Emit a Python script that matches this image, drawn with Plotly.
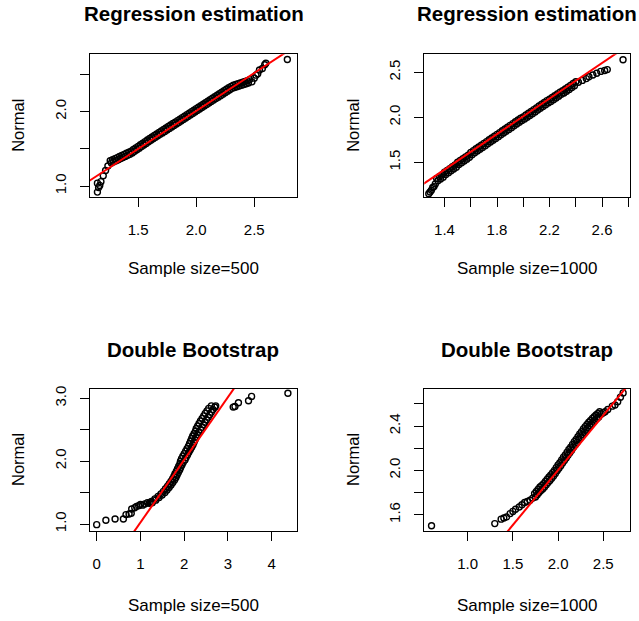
import plotly.graph_objects as go

# ---------------- data ----------------
# Panel 1: Regression estimation, n=500  (sample quantile x, normal quantile y)
p1_x = [1.15, 1.15, 1.16, 1.17, 1.18, 1.20, 1.22, 1.24,
        1.26, 1.27, 1.28, 1.29, 1.30, 1.31, 1.32, 1.33, 1.34, 1.35,
        1.36, 1.37, 1.38, 1.39, 1.40, 1.41, 1.42, 1.43, 1.44, 1.45,
        1.46, 1.47, 1.48, 1.49, 1.50, 1.51, 1.52, 1.53, 1.54, 1.55,
        1.56, 1.57, 1.58, 1.59, 1.60, 1.61, 1.62, 1.63, 1.64, 1.65,
        1.66, 1.67, 1.68, 1.69, 1.70, 1.71, 1.72, 1.73, 1.74, 1.75,
        1.76, 1.77, 1.78, 1.79, 1.80, 1.81, 1.82, 1.83, 1.84, 1.85,
        1.86, 1.87, 1.88, 1.89, 1.90, 1.91, 1.92, 1.93, 1.94, 1.95,
        1.96, 1.97, 1.98, 1.99, 2.00, 2.01, 2.02, 2.03, 2.04, 2.05,
        2.06, 2.07, 2.08, 2.09, 2.10, 2.11, 2.12, 2.13, 2.14, 2.15,
        2.16, 2.17, 2.18, 2.19, 2.20, 2.21, 2.22, 2.23, 2.24, 2.25,
        2.26, 2.27, 2.28, 2.29, 2.30, 2.31, 2.32, 2.33, 2.34, 2.35,
        2.36, 2.37, 2.38, 2.39, 2.40, 2.41, 2.42, 2.43, 2.44, 2.45, 2.46,
        2.48, 2.50, 2.515, 2.53, 2.545, 2.57, 2.59, 2.60, 2.785]
p1_y = [0.92, 1.04, 0.98, 1.01, 1.06, 1.14, 1.21, 1.27,
        1.340, 1.312, 1.354, 1.327, 1.369, 1.341, 1.383, 1.355, 1.398, 1.370,
        1.412, 1.384, 1.426, 1.399, 1.441, 1.413, 1.455, 1.427, 1.470, 1.446,
        1.491, 1.467, 1.513, 1.488, 1.534, 1.510, 1.555, 1.531, 1.576, 1.552,
        1.598, 1.573, 1.619, 1.595, 1.640, 1.615, 1.660, 1.635, 1.680, 1.655,
        1.700, 1.675, 1.720, 1.695, 1.740, 1.715, 1.760, 1.735, 1.780, 1.755,
        1.800, 1.775, 1.820, 1.795, 1.840, 1.815, 1.860, 1.835, 1.880, 1.855,
        1.900, 1.875, 1.920, 1.895, 1.940, 1.915, 1.960, 1.935, 1.980, 1.955,
        2.000, 1.975, 2.020, 1.995, 2.040, 2.015, 2.060, 2.035, 2.080, 2.055,
        2.100, 2.075, 2.120, 2.095, 2.140, 2.115, 2.160, 2.135, 2.180, 2.155,
        2.200, 2.175, 2.220, 2.195, 2.240, 2.215, 2.260, 2.235, 2.280, 2.255,
        2.300, 2.275, 2.320, 2.295, 2.340, 2.313, 2.355, 2.325, 2.365, 2.335,
        2.375, 2.345, 2.385, 2.355, 2.395, 2.365, 2.405, 2.375, 2.415, 2.385, 2.430,
        2.40, 2.45, 2.49, 2.51, 2.56, 2.58, 2.63, 2.65, 2.70]
p1_line = [-0.031, 1.02]   # intercept, slope of qqline

# Panel 2: Regression estimation, n=1000
p2_x = [1.28, 1.29, 1.30, 1.31, 1.32, 1.33,
        1.34, 1.35, 1.36, 1.37, 1.38, 1.39, 1.40, 1.41, 1.42, 1.43,
        1.44, 1.45, 1.46, 1.47, 1.48, 1.49, 1.50, 1.51, 1.52, 1.53,
        1.54, 1.55, 1.56, 1.57, 1.58, 1.59, 1.60, 1.61, 1.62, 1.63,
        1.64, 1.65, 1.66, 1.67, 1.68, 1.69, 1.70, 1.71, 1.72, 1.73,
        1.74, 1.75, 1.76, 1.77, 1.78, 1.79, 1.80, 1.81, 1.82, 1.83,
        1.84, 1.85, 1.86, 1.87, 1.88, 1.89, 1.90, 1.91, 1.92, 1.93,
        1.94, 1.95, 1.96, 1.97, 1.98, 1.99, 2.00, 2.01, 2.02, 2.03,
        2.04, 2.05, 2.06, 2.07, 2.08, 2.09, 2.10, 2.11, 2.12, 2.13,
        2.14, 2.15, 2.16, 2.17, 2.18, 2.19, 2.20, 2.21, 2.22, 2.23,
        2.24, 2.25, 2.26, 2.27, 2.28, 2.29, 2.30, 2.31, 2.32, 2.33,
        2.34, 2.35, 2.36, 2.37, 2.38, 2.39, 2.40,
        2.42, 2.45, 2.48, 2.50, 2.53, 2.56, 2.59, 2.62, 2.64, 2.76]
p2_y = [1.15, 1.17, 1.19, 1.22, 1.23, 1.26,
        1.320, 1.295, 1.340, 1.315, 1.360, 1.335, 1.390, 1.365, 1.410, 1.385,
        1.430, 1.405, 1.450, 1.425, 1.470, 1.445, 1.500, 1.475, 1.520, 1.495,
        1.540, 1.515, 1.560, 1.535, 1.580, 1.555, 1.610, 1.585, 1.630, 1.605,
        1.650, 1.625, 1.670, 1.645, 1.690, 1.665, 1.710, 1.685, 1.730, 1.705,
        1.750, 1.725, 1.770, 1.745, 1.790, 1.765, 1.810, 1.785, 1.830, 1.805,
        1.850, 1.825, 1.870, 1.845, 1.890, 1.865, 1.910, 1.885, 1.930, 1.905,
        1.950, 1.925, 1.970, 1.945, 1.990, 1.965, 2.005, 1.980, 2.025, 2.000,
        2.045, 2.020, 2.065, 2.040, 2.085, 2.060, 2.105, 2.080, 2.125, 2.100,
        2.145, 2.120, 2.165, 2.140, 2.185, 2.160, 2.200, 2.175, 2.220, 2.195,
        2.240, 2.215, 2.260, 2.235, 2.280, 2.255, 2.295, 2.270, 2.315, 2.290,
        2.335, 2.310, 2.355, 2.330, 2.375, 2.350, 2.395,
        2.39, 2.41, 2.43, 2.45, 2.47, 2.49, 2.51, 2.52, 2.53, 2.64]
p2_line = [0.037, 0.987]

# Panel 3: Double Bootstrap, n=500
p3_x = [0.00, 0.21, 0.42, 0.61, 0.67, 0.74, 0.79, 0.80, 0.87, 0.91, 0.96,
        1.00, 1.05, 1.10, 1.16, 1.20, 1.24,
        1.27, 1.25, 1.35, 1.33, 1.426, 1.402, 1.496, 1.468, 1.56, 1.524,
        1.608, 1.572, 1.656, 1.62, 1.70, 1.66, 1.74, 1.70, 1.78, 1.736,
        1.812, 1.766, 1.838, 1.79, 1.866, 1.822, 1.896, 1.848, 1.92, 1.874,
        1.948, 1.902, 1.976, 1.915, 2.017, 1.939, 2.043, 1.969, 2.075, 2.001,
        2.107, 2.033, 2.139, 2.065, 2.171, 2.097, 2.201, 2.123, 2.225, 2.147,
        2.249, 2.171, 2.273, 2.195, 2.301, 2.227, 2.333, 2.259, 2.38, 2.276,
        2.412, 2.308, 2.444, 2.34, 2.476, 2.372, 2.51, 2.41, 2.55, 2.446,
        2.582, 2.48, 2.62, 2.52, 2.66, 2.56, 2.70, 2.62, 2.70, 2.72,
        3.12, 3.16, 3.24, 3.47, 3.54, 4.37]
p3_y = [0.99, 1.06, 1.08, 1.08, 1.15, 1.16, 1.17, 1.24, 1.26, 1.28, 1.29,
        1.31, 1.30, 1.32, 1.34, 1.33, 1.34,
        1.34, 1.36, 1.38, 1.40, 1.42, 1.44, 1.46, 1.48, 1.50, 1.52,
        1.54, 1.56, 1.58, 1.60, 1.62, 1.64, 1.66, 1.68, 1.70, 1.72,
        1.74, 1.76, 1.78, 1.80, 1.82, 1.84, 1.86, 1.88, 1.90, 1.92,
        1.94, 1.96, 1.98, 2.00, 2.02, 2.04, 2.06, 2.08, 2.10, 2.12,
        2.14, 2.16, 2.18, 2.20, 2.22, 2.24, 2.26, 2.28, 2.30, 2.32,
        2.34, 2.36, 2.38, 2.40, 2.42, 2.44, 2.46, 2.48, 2.50, 2.52,
        2.54, 2.56, 2.58, 2.60, 2.62, 2.64, 2.66, 2.68, 2.70, 2.72,
        2.74, 2.76, 2.78, 2.80, 2.82, 2.84, 2.86, 2.88, 2.86, 2.88,
        2.86, 2.87, 2.93, 2.96, 3.03, 3.08]
p3_line = [0.028, 0.997]

# Panel 4: Double Bootstrap, n=1000
p4_x = [0.60, 1.30, 1.37, 1.40, 1.43, 1.47, 1.50, 1.53, 1.57, 1.60, 1.63, 1.66, 1.69, 1.72,
        1.74, 1.75, 1.76, 1.77, 1.78, 1.79, 1.80, 1.81, 1.82, 1.83,
        1.84, 1.85, 1.86, 1.87, 1.88, 1.89, 1.90, 1.91, 1.92, 1.93,
        1.94, 1.95, 1.96, 1.97, 1.98, 1.99, 2.00, 2.01, 2.02, 2.03,
        2.04, 2.05, 2.06, 2.07, 2.08, 2.09, 2.10, 2.11, 2.12, 2.13,
        2.14, 2.15, 2.16, 2.17, 2.18, 2.19, 2.20, 2.21, 2.22, 2.23,
        2.24, 2.25, 2.26, 2.27, 2.28, 2.29, 2.30, 2.31, 2.32, 2.33,
        2.34, 2.35, 2.36, 2.37, 2.38, 2.39, 2.40, 2.41, 2.42, 2.43,
        2.44, 2.45, 2.46,
        2.48, 2.50, 2.52, 2.55, 2.60, 2.63, 2.66, 2.69, 2.72]
p4_y = [1.50, 1.52, 1.56, 1.57, 1.58, 1.61, 1.63, 1.65, 1.67, 1.69, 1.71, 1.72, 1.73, 1.75,
        1.790, 1.760, 1.810, 1.780, 1.830, 1.800, 1.850, 1.818, 1.865, 1.833,
        1.880, 1.850, 1.900, 1.870, 1.920, 1.890, 1.940, 1.910, 1.960, 1.930,
        1.980, 1.950, 2.000, 1.973, 2.025, 1.998, 2.050, 2.020, 2.070, 2.043,
        2.095, 2.068, 2.120, 2.090, 2.140, 2.113, 2.165, 2.138, 2.190, 2.160,
        2.210, 2.183, 2.235, 2.208, 2.260, 2.230, 2.280, 2.253, 2.305, 2.278,
        2.330, 2.300, 2.350, 2.323, 2.375, 2.345, 2.395, 2.365, 2.415, 2.385,
        2.435, 2.403, 2.450, 2.420, 2.470, 2.438, 2.485, 2.453, 2.500, 2.468,
        2.515, 2.483, 2.530,
        2.51, 2.52, 2.53, 2.55, 2.58, 2.59, 2.62, 2.66, 2.70]
p4_line = [0.022, 0.99]

titles = ["Regression estimation", "Regression estimation", "Double Bootstrap", "Double Bootstrap"]
xlabels = ["Sample size=500", "Sample size=1000", "Sample size=500", "Sample size=1000"]
ylabel = "Normal"

p1_xticks, p1_xticklabels = [1.5, 2.0, 2.5], ["1.5", "2.0", "2.5"]
p1_yticks, p1_yticklabels = [1.0, 1.5, 2.0, 2.5], ["1.0", "", "2.0", ""]
p2_xticks = [1.4, 1.6, 1.8, 2.0, 2.2, 2.4, 2.6, 2.8]
p2_xticklabels = ["1.4", "", "1.8", "", "2.2", "", "2.6", ""]
p2_yticks, p2_yticklabels = [1.5, 2.0, 2.5], ["1.5", "2.0", "2.5"]
p3_xticks, p3_xticklabels = [0, 1, 2, 3, 4], ["0", "1", "2", "3", "4"]
p3_yticks, p3_yticklabels = [1.0, 1.5, 2.0, 2.5, 3.0], ["1.0", "", "2.0", "", "3.0"]
p4_xticks, p4_xticklabels = [1.0, 1.5, 2.0, 2.5], ["1.0", "1.5", "2.0", "2.5"]
p4_yticks = [1.6, 1.8, 2.0, 2.2, 2.4, 2.6]
p4_yticklabels = ["1.6", "", "2.0", "", "2.4", ""]

# ---------------- layout geometry ----------------
W, H = 639, 621
FONT = "Liberation Sans, Arial, sans-serif"

panels = [
    dict(x=p1_x, y=p1_y, line=p1_line, box=(90, 54.3, 297, 197.3),
         xr=[1.086, 2.868], yr=[0.85, 2.77],
         xt=(p1_xticks, p1_xticklabels), yt=(p1_yticks, p1_yticklabels)),
    dict(x=p2_x, y=p2_y, line=p2_line, box=(424.3, 54.3, 630, 197.3),
         xr=[1.246, 2.813], yr=[1.111, 2.70],
         xt=(p2_xticks, p2_xticklabels), yt=(p2_yticks, p2_yticklabels)),
    dict(x=p3_x, y=p3_y, line=p3_line, box=(90, 389, 296.7, 531),
         xr=[-0.153, 4.571], yr=[0.889, 3.148],
         xt=(p3_xticks, p3_xticklabels), yt=(p3_yticks, p3_yticklabels)),
    dict(x=p4_x, y=p4_y, line=p4_line, box=(424.3, 389, 630, 531),
         xr=[0.52, 2.796], yr=[1.453, 2.735],
         xt=(p4_xticks, p4_xticklabels), yt=(p4_yticks, p4_yticklabels)),
]

fig = go.Figure()
layout = dict(
    template="none",
    width=W, height=H, margin=dict(l=0, r=0, t=0, b=0, autoexpand=False),
    paper_bgcolor="white", plot_bgcolor="white", showlegend=False,
    font=dict(family=FONT, size=16, color="black"),
)
annotations = []

for i, p in enumerate(panels):
    n = i + 1
    xa = "x" if n == 1 else f"x{n}"
    ya = "y" if n == 1 else f"y{n}"
    left, top, right, bottom = p["box"]
    common = dict(showgrid=False, zeroline=False, showline=True, mirror=True,
                  automargin=False,
                  linecolor="black", linewidth=1, ticks="outside", ticklen=9,
                  tickwidth=1, tickcolor="black",
                  tickfont=dict(family=FONT, size=15, color="black"))
    layout[f"xaxis{'' if n == 1 else n}"] = dict(
        domain=[left / W, right / W], range=p["xr"], anchor=ya,
        tickmode="array", tickvals=p["xt"][0], ticktext=p["xt"][1],
        ticklabelstandoff=10, **common)
    layout[f"yaxis{'' if n == 1 else n}"] = dict(
        domain=[1 - bottom / H, 1 - top / H], range=p["yr"], anchor=xa,
        tickmode="array", tickvals=p["yt"][0], ticktext=p["yt"][1],
        tickangle=-90, ticklabelstandoff=8, **common)

    fig.add_trace(go.Scatter(
        x=p["x"], y=p["y"], mode="markers", xaxis=xa, yaxis=ya,
        marker=dict(symbol="circle-open", size=6, color="black",
                    line=dict(width=1.4, color="black"))))
    a, b = p["line"]
    lx = [p["xr"][0] - 1, p["xr"][1] + 1]
    fig.add_trace(go.Scatter(
        x=lx, y=[a + b * v for v in lx], mode="lines", xaxis=xa, yaxis=ya,
        line=dict(color="red", width=2)))

    cx = (left + right) / 2
    cy = (top + bottom) / 2
    title_y = 14 if n <= 2 else 349
    xlab_y = 269 if n <= 2 else 605
    ylab_x = 18 if n % 2 == 1 else 353
    annotations.append(dict(text=f"<b>{titles[i]}</b>", x=cx / W, y=1 - title_y / H,
                            xref="paper", yref="paper", xanchor="center", yanchor="middle",
                            showarrow=False, font=dict(family=FONT, size=20.5, color="black")))
    annotations.append(dict(text=xlabels[i], x=cx / W, y=1 - xlab_y / H,
                            xref="paper", yref="paper", xanchor="center", yanchor="middle",
                            showarrow=False, font=dict(family=FONT, size=17, color="black")))
    annotations.append(dict(text=ylabel, x=ylab_x / W, y=1 - cy / H, textangle=-90,
                            xref="paper", yref="paper", xanchor="center", yanchor="middle",
                            showarrow=False, font=dict(family=FONT, size=16.5, color="black")))

layout["annotations"] = annotations
fig.update_layout(**layout)
fig.write_html("out.html",
               config={"displayModeBar": False},
               post_script="document.body.style.margin='0';"
                           "document.documentElement.style.overflow='hidden';")
